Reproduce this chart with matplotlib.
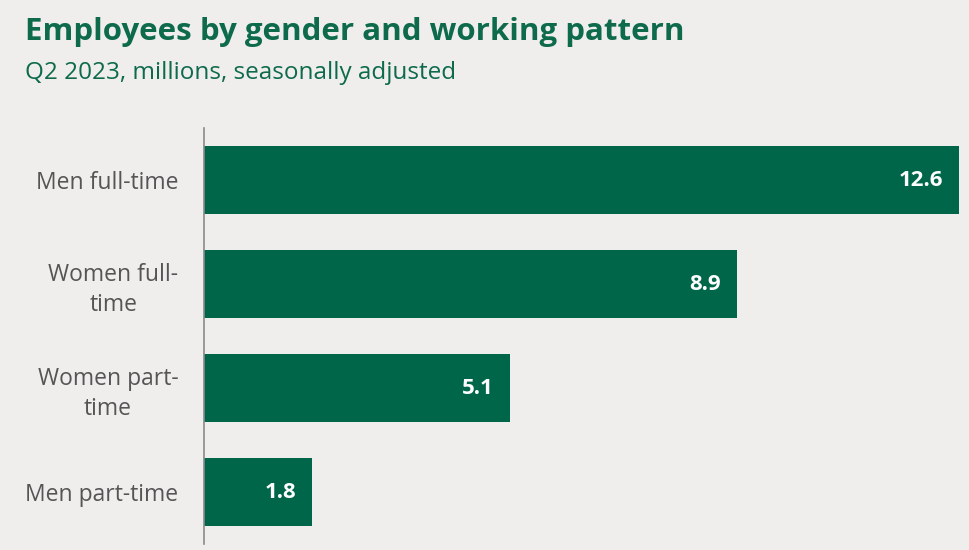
import matplotlib
matplotlib.use("Agg")
import matplotlib.pyplot as plt

categories = ["Men full-time", "Women full-\ntime", "Women part-\ntime", "Men part-time"]
values = [12.6, 8.9, 5.1, 1.8]
value_labels = ["12.6", "8.9", "5.1", "1.8"]

BG = "#efeeec"
GREEN = "#00664a"
TITLE_GREEN = "#0d6a4b"

fig = plt.figure(figsize=(9.69, 5.5), dpi=100, facecolor=BG)
ax = fig.add_axes([204/969, 6/550, (959-204)/969, 416/550], facecolor=BG)

y = list(range(len(categories)))
ax.barh(y, values, height=0.655, color=GREEN)
ax.set_ylim(3.5, -0.5)
ax.set_xlim(0, 12.6)

for yi, v, lab in zip(y, values, value_labels):
    ax.annotate(lab, (v, yi), xytext=(-16, 0), textcoords="offset pixels",
                ha="right", va="center", color="white", fontsize=16, fontweight="bold",
                family="Open Sans")

ax.set_yticks(y)
ax.set_yticklabels(categories, fontsize=16.5, color="#555555", family="Open Sans",
                   multialignment="center", linespacing=1.35)
ax.tick_params(axis="y", length=0, pad=18.5)
ax.set_xticks([])
for s in ["top", "right", "bottom"]:
    ax.spines[s].set_visible(False)
ax.spines["left"].set_color("#8a8a8a")
ax.spines["left"].set_linewidth(1.2)

fig.text(25/969, 1 - 32/550, "Employees by gender and working pattern", fontsize=22.5,
         fontweight="bold", color=TITLE_GREEN, family="Open Sans", va="center", ha="left")
fig.text(25/969, 1 - 73/550, "Q2 2023, millions, seasonally adjusted", fontsize=17.5,
         color=TITLE_GREEN, family="Open Sans", va="center", ha="left")

fig.savefig("out.png", dpi=100, facecolor=BG)
